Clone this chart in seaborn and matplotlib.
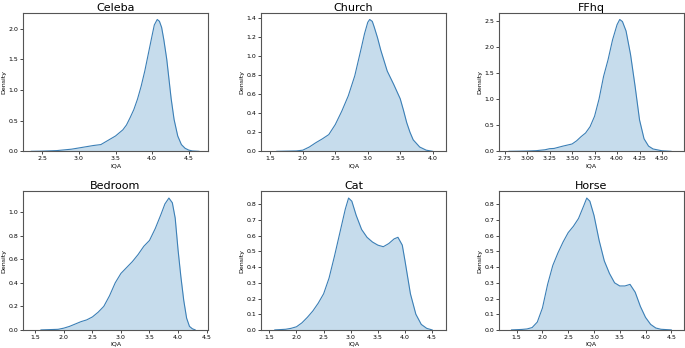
import matplotlib
matplotlib.use("Agg")
import matplotlib.pyplot as plt
import seaborn as sns
import pandas as pd

# density curves (IQA score -> density)
celeba_x = [2.35, 2.5, 2.7, 2.9, 3.0, 3.1, 3.2, 3.3, 3.4, 3.5, 3.6, 3.65, 3.7, 3.75, 3.8, 3.85, 3.9, 3.95, 4.0,
            4.03, 4.07, 4.1, 4.13, 4.16, 4.2, 4.23, 4.26, 4.3, 4.35, 4.4, 4.45, 4.5, 4.55, 4.64]
celeba_y = [0.0, 0.003, 0.012, 0.035, 0.055, 0.075, 0.095, 0.11, 0.18, 0.25, 0.35, 0.43, 0.55, 0.68, 0.85, 1.06,
            1.31, 1.6, 1.89, 2.06, 2.15, 2.12, 2.02, 1.82, 1.5, 1.18, 0.86, 0.52, 0.25, 0.11, 0.05, 0.02, 0.006,
            0.0]

church_x = [1.6, 1.9, 2.0, 2.1, 2.2, 2.3, 2.4, 2.5, 2.6, 2.7, 2.8, 2.9, 2.95, 3.0, 3.03, 3.07, 3.1, 3.15, 3.2,
            3.3, 3.4, 3.5, 3.55, 3.6, 3.65, 3.7, 3.8, 3.9, 4.0]
church_y = [0.0, 0.004, 0.012, 0.045, 0.09, 0.13, 0.175, 0.28, 0.42, 0.58, 0.79, 1.08, 1.23, 1.35, 1.38, 1.36,
            1.3, 1.19, 1.06, 0.84, 0.7, 0.55, 0.43, 0.3, 0.2, 0.12, 0.045, 0.012, 0.0]

ffhq_x = [2.8, 3.0, 3.1, 3.2, 3.25, 3.3, 3.4, 3.5, 3.55, 3.6, 3.65, 3.7, 3.75, 3.8, 3.85, 3.9, 3.95, 4.0, 4.03,
          4.06, 4.1, 4.15, 4.2, 4.25, 4.3, 4.35, 4.4, 4.5, 4.6]
ffhq_y = [0.0, 0.005, 0.012, 0.03, 0.05, 0.055, 0.1, 0.14, 0.2, 0.28, 0.35, 0.47, 0.67, 1.0, 1.43, 1.75, 2.13,
          2.42, 2.52, 2.48, 2.3, 1.85, 1.25, 0.6, 0.24, 0.1, 0.045, 0.01, 0.0]

bedroom_x = [1.6, 1.9, 2.0, 2.1, 2.2, 2.3, 2.4, 2.5, 2.6, 2.7, 2.8, 2.9, 3.0, 3.1, 3.2, 3.3, 3.4, 3.5, 3.6, 3.7,
             3.77, 3.84, 3.9, 3.95, 4.0, 4.05, 4.1, 4.15, 4.2, 4.25, 4.3]
bedroom_y = [0.0, 0.005, 0.015, 0.03, 0.05, 0.07, 0.085, 0.11, 0.15, 0.2, 0.29, 0.4, 0.48, 0.53, 0.58, 0.64, 0.71,
             0.76, 0.86, 0.98, 1.07, 1.12, 1.08, 0.95, 0.68, 0.45, 0.25, 0.1, 0.03, 0.01, 0.0]

cat_x = [1.6, 1.8, 1.9, 2.0, 2.1, 2.2, 2.3, 2.4, 2.5, 2.6, 2.7, 2.8, 2.9, 2.96, 3.02, 3.1, 3.2, 3.3, 3.4, 3.5,
         3.6, 3.7, 3.8, 3.87, 3.95, 4.0, 4.1, 4.2, 4.3, 4.4, 4.5]
cat_y = [0.0, 0.004, 0.01, 0.02, 0.045, 0.08, 0.12, 0.17, 0.23, 0.33, 0.47, 0.62, 0.77, 0.84, 0.82, 0.73, 0.64,
         0.59, 0.56, 0.54, 0.53, 0.55, 0.58, 0.59, 0.54, 0.44, 0.23, 0.1, 0.035, 0.01, 0.0]

horse_x = [1.4, 1.6, 1.7, 1.8, 1.9, 2.0, 2.1, 2.2, 2.3, 2.4, 2.5, 2.6, 2.7, 2.8, 2.86, 2.92, 3.0, 3.1, 3.2, 3.3,
           3.4, 3.5, 3.6, 3.7, 3.8, 3.9, 4.0, 4.1, 4.2, 4.3, 4.5]
horse_y = [0.0, 0.003, 0.006, 0.015, 0.05, 0.14, 0.29, 0.41, 0.49, 0.56, 0.62, 0.66, 0.71, 0.79, 0.84, 0.82, 0.73,
           0.57, 0.44, 0.36, 0.3, 0.28, 0.28, 0.29, 0.24, 0.15, 0.08, 0.035, 0.012, 0.004, 0.0]

titles = ["Celeba", "Church", "FFhq", "Bedroom", "Cat", "Horse"]
curves = [(celeba_x, celeba_y), (church_x, church_y), (ffhq_x, ffhq_y),
          (bedroom_x, bedroom_y), (cat_x, cat_y), (horse_x, horse_y)]
xlims = [(2.24, 4.76), (1.36, 4.2), (2.69, 4.74), (1.29, 4.52), (1.35, 4.75), (1.16, 4.74)]

fig, axes = plt.subplots(2, 3, figsize=(6.85, 3.48), dpi=100)
plt.subplots_adjust(left=0.034, right=0.998, top=0.963, bottom=0.052, wspace=0.29, hspace=0.29)

for ax, title, (xs, ys), xl in zip(axes.flat, titles, curves, xlims):
    df = pd.DataFrame({"IQA": xs, "Density": ys})
    sns.lineplot(data=df, x="IQA", y="Density", ax=ax, color="#3b7fb6", linewidth=0.8)
    ax.fill_between(df["IQA"], df["Density"], color="#1f77b4", alpha=0.25, linewidth=0)
    ax.set_xlim(*xl)
    ax.set_ylim(0, max(ys) * 1.05)
    ax.set_title(title, fontsize=8, pad=1.5)
    ax.set_xlabel("IQA", fontsize=4.5, labelpad=1.5)
    ax.set_ylabel("Density", fontsize=4.5, labelpad=1.5)
    ax.tick_params(labelsize=4.5, length=2, width=0.5, pad=1.5)
    for s in ax.spines.values():
        s.set_linewidth(0.8)
        s.set_color("#555555")

fig.savefig("out.png", dpi=100)
